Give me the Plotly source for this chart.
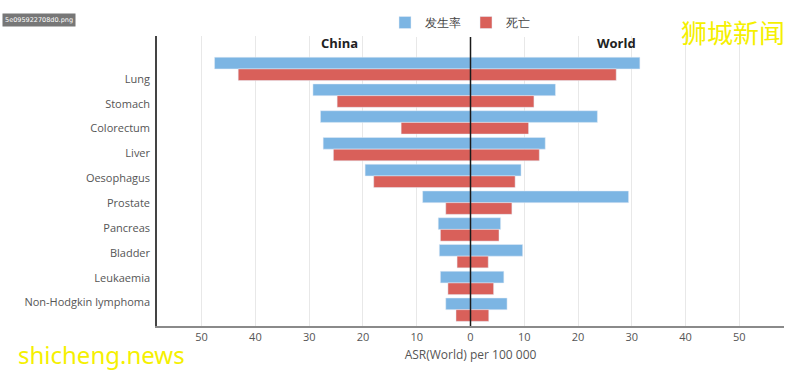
import plotly.graph_objects as go

categories = ["Lung", "Stomach", "Colorectum", "Liver", "Oesophagus",
              "Prostate", "Pancreas", "Bladder", "Leukaemia", "Non-Hodgkin lymphoma"]
china_incidence = [47.6, 29.3, 27.9, 27.4, 19.6, 8.9, 6.0, 5.8, 5.6, 4.6]
china_mortality = [43.2, 24.8, 12.9, 25.5, 18.0, 4.6, 5.6, 2.5, 4.2, 2.7]
world_incidence = [31.5, 15.8, 23.6, 13.9, 9.4, 29.4, 5.6, 9.7, 6.2, 6.8]
world_mortality = [27.1, 11.8, 10.8, 12.8, 8.3, 7.7, 5.3, 3.3, 4.3, 3.4]
x_ticks = [-50, -40, -30, -20, -10, 0, 10, 20, 30, 40, 50]

BLUE = "#7cb5e3"
RED = "#d9605a"
FONT = "Open Sans"

L, R, T, B = 157, 16, 36, 50
W_PLOT = 800 - L - R
H_PLOT = 376 - T - B


def px_to_paper(px, py):
    return (px - L) / W_PLOT, (376 - B - py) / H_PLOT


idx = list(range(len(categories)))

fig = go.Figure()
fig.add_trace(go.Bar(y=idx, x=[-v for v in china_incidence], orientation="h",
                     name="发生率", marker_color=BLUE, legendgroup="inc",
                     offsetgroup="inc", showlegend=True))
fig.add_trace(go.Bar(y=idx, x=world_incidence, orientation="h",
                     name="发生率", marker_color=BLUE, legendgroup="inc",
                     offsetgroup="inc", showlegend=False))
fig.add_trace(go.Bar(y=idx, x=[-v for v in china_mortality], orientation="h",
                     name="死亡", marker_color=RED, legendgroup="mort",
                     offsetgroup="mort", showlegend=True))
fig.add_trace(go.Bar(y=idx, x=world_mortality, orientation="h",
                     name="死亡", marker_color=RED, legendgroup="mort",
                     offsetgroup="mort", showlegend=False))

label_pos = [0.374 + 0.929 * i for i in idx]

lx, ly = px_to_paper(460, 8)
cx, cy = px_to_paper(339, 43)
wx_, wy_ = px_to_paper(733, 31)
sx, sy = px_to_paper(101, 354)
gx, gy = px_to_paper(39, 20)

fig.update_layout(
    width=800, height=376,
    margin=dict(l=L, r=R, t=T, b=B, autoexpand=False),
    paper_bgcolor="white", plot_bgcolor="white",
    barmode="group", bargap=0.127, bargroupgap=0,
    font=dict(family=FONT, color="#555", size=11),
    legend=dict(orientation="h", x=lx, xanchor="center", y=ly, yanchor="top",
                font=dict(size=12, color="#444"), traceorder="normal",
                itemwidth=30),
    xaxis=dict(range=[-58.3, 58.3], tickvals=x_ticks,
               ticktext=[str(abs(v)) for v in x_ticks],
               showgrid=True, gridcolor="#e8e8e8", gridwidth=1,
               zeroline=False,
               showline=True, linecolor="#8a8a8a", linewidth=1.5,
               ticks="", tickfont=dict(size=11, color="#555"), automargin=False,
               title=dict(text="ASR(World) per 100 000", font=dict(size=12, color="#555"),
                          standoff=8)),
    yaxis=dict(range=[9.61, -1.23], tickvals=label_pos, ticktext=categories,
               showgrid=False, zeroline=False, automargin=False,
               showline=True, linecolor="#444", linewidth=1.5,
               ticks="", ticklabelstandoff=3, tickfont=dict(size=11, color="#555")),
    shapes=[dict(type="line", xref="x", yref="paper", x0=0, x1=0, y0=0, y1=1,
                 line=dict(color="#1a1a1a", width=1.5), layer="above")],
    annotations=[
        dict(text="<b>China</b>", x=-24.4, y=cy, xref="x", yref="paper",
             xanchor="center", yanchor="middle",
             showarrow=False, font=dict(size=13, color="#222", family=FONT)),
        dict(text="<b>World</b>", x=27.1, y=cy, xref="x", yref="paper",
             xanchor="center", yanchor="middle",
             showarrow=False, font=dict(size=13, color="#222", family=FONT)),
        dict(text="狮城新闻", x=wx_, y=wy_, xref="paper", yref="paper",
             xanchor="center", yanchor="middle",
             showarrow=False, font=dict(size=26, color="#f5f000", family="Noto Sans CJK SC")),
        dict(text="shicheng.news", x=sx, y=sy, xref="paper", yref="paper",
             xanchor="center", yanchor="middle",
             showarrow=False, font=dict(size=24, color="#f5f000", family="Noto Sans")),
        dict(text="5e095922708d0.png", x=gx, y=gy, xref="paper", yref="paper",
             xanchor="center", yanchor="middle",
             showarrow=False, font=dict(size=6.5, color="white", family="DejaVu Sans"),
             bgcolor="#777", borderpad=2),
    ],
)

fig.write_html("out.html", config={"displayModeBar": False},
               post_script="document.body.style.margin='0';")
